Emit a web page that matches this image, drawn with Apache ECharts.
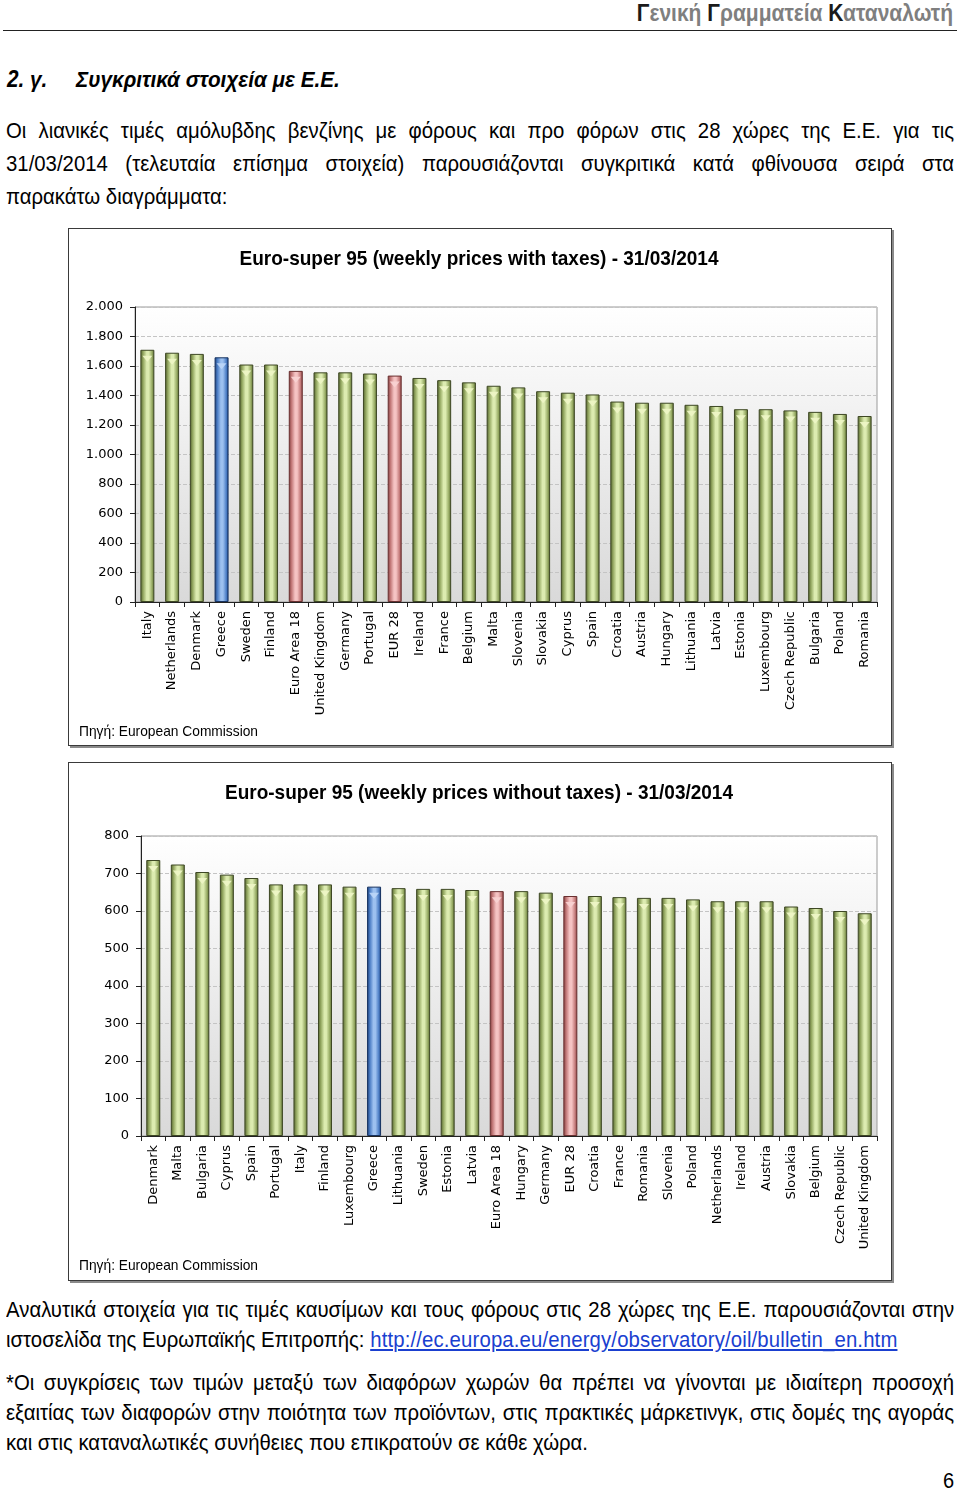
<!DOCTYPE html>
<html><head><meta charset="utf-8">
<script src="https://cdn.jsdelivr.net/npm/echarts@6/dist/echarts.min.js"></script>
<style>
body{margin:0;background:#fff;width:960px;height:1489px;position:relative;overflow:hidden;font-family:"Liberation Sans",sans-serif;color:#000;}
.t{position:absolute;white-space:nowrap;line-height:30px;transform-origin:0 0;}
.j{position:absolute;text-align:justify;text-align-last:justify;line-height:30px;white-space:nowrap;transform-origin:0 0;}
.s{transform:scaleX(0.925);}
.box{position:absolute;border:1px solid #3a3a3a;box-shadow:2px 2px 0 #8a8a8a;background:#fff;}
.chart{position:absolute;left:0;top:0;}
a{color:#1a3fd0;text-decoration:underline;letter-spacing:0.15px;}
</style></head>
<body>
<div class="t" style="left:953px;top:-2px;font-size:24px;font-weight:bold;color:#7f7f7f;transform:translateX(-100%) scaleX(0.875);transform-origin:100% 0;"><span style="color:#1a1a1a">Γ</span>ενική <span style="color:#1a1a1a">Γ</span>ραμματεία <span style="color:#1a1a1a">Κ</span>αταναλωτή</div>
<div style="position:absolute;left:3px;top:30px;width:954px;height:0;border-top:1.5px solid #222;"></div>
<div class="t" style="left:7px;top:64px;font-size:23px;font-weight:bold;font-style:italic;transform:scaleX(0.9);">2. γ.</div>
<div class="t" style="left:76px;top:64px;font-size:23px;font-weight:bold;font-style:italic;transform:scaleX(0.9);">Συγκριτικά στοιχεία με Ε.Ε.</div>

<div class="j s" style="left:6px;width:1025px;top:116px;font-size:22px;">Οι λιανικές τιμές αμόλυβδης βενζίνης με φόρους και προ φόρων στις 28 χώρες της Ε.Ε. για τις</div>
<div class="j s" style="left:6px;width:1025px;top:149px;font-size:22px;">31/03/2014 (τελευταία επίσημα στοιχεία) παρουσιάζονται συγκριτικά κατά φθίνουσα σειρά στα</div>
<div class="t s" style="left:6px;top:182px;font-size:22px;">παρακάτω διαγράμματα:</div>

<div class="box" style="left:68px;top:228px;width:822px;height:516px;"><div id="c1" class="chart" style="width:822px;height:516px;"></div></div>
<div class="box" style="left:68px;top:762px;width:822px;height:517px;"><div id="c2" class="chart" style="width:822px;height:517px;"></div></div>

<div class="j s" style="left:6px;width:1025px;top:1295px;font-size:22px;">Αναλυτικά στοιχεία για τις τιμές καυσίμων και τους φόρους στις 28 χώρες της Ε.Ε. παρουσιάζονται στην</div>
<div class="t s" style="left:6px;top:1325px;font-size:22px;">ιστοσελίδα της Ευρωπαϊκής Επιτροπής: <a>http://ec.europa.eu/energy/observatory/oil/bulletin_en.htm</a></div>
<div class="j s" style="left:6px;width:1025px;top:1368px;font-size:22px;">*Οι συγκρίσεις των τιμών μεταξύ των διαφόρων χωρών θα πρέπει να γίνονται με ιδιαίτερη προσοχή</div>
<div class="j s" style="left:6px;width:1025px;top:1398px;font-size:22px;">εξαιτίας των διαφορών στην ποιότητα των προϊόντων, στις πρακτικές μάρκετινγκ, στις δομές της αγοράς</div>
<div class="t s" style="left:6px;top:1428px;font-size:22px;">και στις καταναλωτικές συνήθειες που επικρατούν σε κάθε χώρα.</div>
<div class="t" style="left:943px;top:1466px;font-size:22px;transform:scaleX(0.91);">6</div>

<script>
// ---- Data ----
const catsWithTax = ["Italy","Netherlands","Denmark","Greece","Sweden","Finland","Euro Area 18","United Kingdom","Germany","Portugal","EUR 28","Ireland","France","Belgium","Malta","Slovenia","Slovakia","Cyprus","Spain","Croatia","Austria","Hungary","Lithuania","Latvia","Estonia","Luxembourg","Czech Republic","Bulgaria","Poland","Romania"];
const valsWithTax = [1710,1690,1682,1659,1610,1610,1567,1557,1557,1549,1535,1519,1504,1489,1466,1455,1429,1419,1407,1359,1351,1351,1337,1329,1307,1307,1299,1289,1275,1261];
const ticksWithTax = [0,200,400,600,800,1000,1200,1400,1600,1800,2000];

const catsNoTax = ["Denmark","Malta","Bulgaria","Cyprus","Spain","Portugal","Italy","Finland","Luxembourg","Greece","Lithuania","Sweden","Estonia","Latvia","Euro Area 18","Hungary","Germany","EUR 28","Croatia","France","Romania","Slovenia","Poland","Netherlands","Ireland","Austria","Slovakia","Belgium","Czech Republic","United Kingdom"];
const valsNoTax = [736,724,704,697,688,671,671,671,665,665,661,659,659,656,653,653,649,640,640,637,635,635,631,626,626,626,612,608,600,594];
const ticksNoTax = [0,100,200,300,400,500,600,700,800];

const title1 = "Euro-super 95 (weekly prices with taxes) - 31/03/2014";
const title2 = "Euro-super 95 (weekly prices without taxes) - 31/03/2014";
const sourceText = "Πηγή: European Commission";

// ---- Styles ----
function grad(edge, mid, light){
  return new echarts.graphic.LinearGradient(0,0,1,0,[
    {offset:0,color:edge},{offset:0.2,color:mid},{offset:0.45,color:light},
    {offset:0.6,color:light},{offset:0.85,color:mid},{offset:1,color:edge}]);
}
const green = grad('#4f5c2b','#93a760','#dcebb0');
const blue = grad('#1b3a70','#4a7cc4','#9cc0ef');
const red = grad('#7a3838','#c27878','#f5c3c3');
function colorFor(name){
  if(name==='Greece') return {c:blue,b:'#163260',cap:'#bcd6f7'};
  if(name==='Euro Area 18'||name==='EUR 28') return {c:red,b:'#6a3030',cap:'#f8d3d3'};
  return {c:green,b:'#3e4824',cap:'#eef6c6'};
}
function fmtDot(v){ return v>=1000 ? Math.floor(v/1000)+'.'+String(v%1000).padStart(3,'0') : String(v); }

const mctx = document.createElement('canvas').getContext('2d');
function fitScale(text, font, target){ mctx.font = font; return target / mctx.measureText(text).width; }

function makeOption(cats, vals, ticks, title, titleW, gridLeft, gridTop, gridBottom, dotFmt, W){
  const maxV = ticks[ticks.length-1], step = ticks[1]-ticks[0];
  const tFont = 'bold 21px "Liberation Sans"';
  const sFont = '15px "Liberation Sans"';
  return {
    animation:false,
    graphic:[
      {type:'text',x:W/2-1,y:20,scaleX:fitScale(title,tFont,titleW),
        style:{text:title,font:tFont,fill:'#000',align:'center',verticalAlign:'top'}},
      {type:'text',x:10,y:495,scaleX:fitScale(sourceText,sFont,179),
        style:{text:sourceText,font:sFont,fill:'#000',align:'left',verticalAlign:'top'}}
    ],
    grid:{left:gridLeft,right:14,top:gridTop,bottom:gridBottom,show:true,borderColor:'#9a9a9a',borderWidth:1,
      backgroundColor:new echarts.graphic.LinearGradient(0,0,0,1,[{offset:0,color:'#ffffff'},{offset:1,color:'#d9d9d9'}])},
    xAxis:{type:'category',data:cats,boundaryGap:true,
      axisLine:{lineStyle:{color:'#222',width:1}},
      axisTick:{show:true,length:5,lineStyle:{color:'#222'}},
      axisLabel:{rotate:90,interval:0,margin:9,fontFamily:'DejaVu Sans',fontSize:13,color:'#000'}},
    yAxis:{type:'value',min:0,max:maxV,interval:step,
      axisLine:{show:true,lineStyle:{color:'#222'}},
      axisTick:{show:true,length:5,lineStyle:{color:'#222'}},
      axisLabel:{margin:12,fontFamily:'DejaVu Sans',fontSize:13,color:'#000',formatter:v=>dotFmt?fmtDot(v):String(v)},
      splitLine:{show:true,lineStyle:{color:'#c4c4c4',type:'dashed'}}},
    series:[
      {type:'bar',barWidth:14,
        data:vals.map((v,i)=>{const s=colorFor(cats[i]);return {value:v,itemStyle:{color:s.c,borderColor:s.b,borderWidth:1}};})},
      {type:'pictorialBar',barGap:'-100%',symbol:'path://M0,0 L10,0 L5,6 Z',symbolSize:[10,6],symbolPosition:'end',symbolOffset:[0,'100%'],z:3,silent:true,
        data:vals.map((v,i)=>{const s=colorFor(cats[i]);return {value:v,itemStyle:{color:s.cap,opacity:0.9}};})}
    ]
  };
}
echarts.init(document.getElementById('c1')).setOption(makeOption(catsWithTax,valsWithTax,ticksWithTax,title1,479,66,78,143,true,822));
echarts.init(document.getElementById('c2')).setOption(makeOption(catsNoTax,valsNoTax,ticksNoTax,title2,508,72,73,144,false,822));
</script>
</body></html>
